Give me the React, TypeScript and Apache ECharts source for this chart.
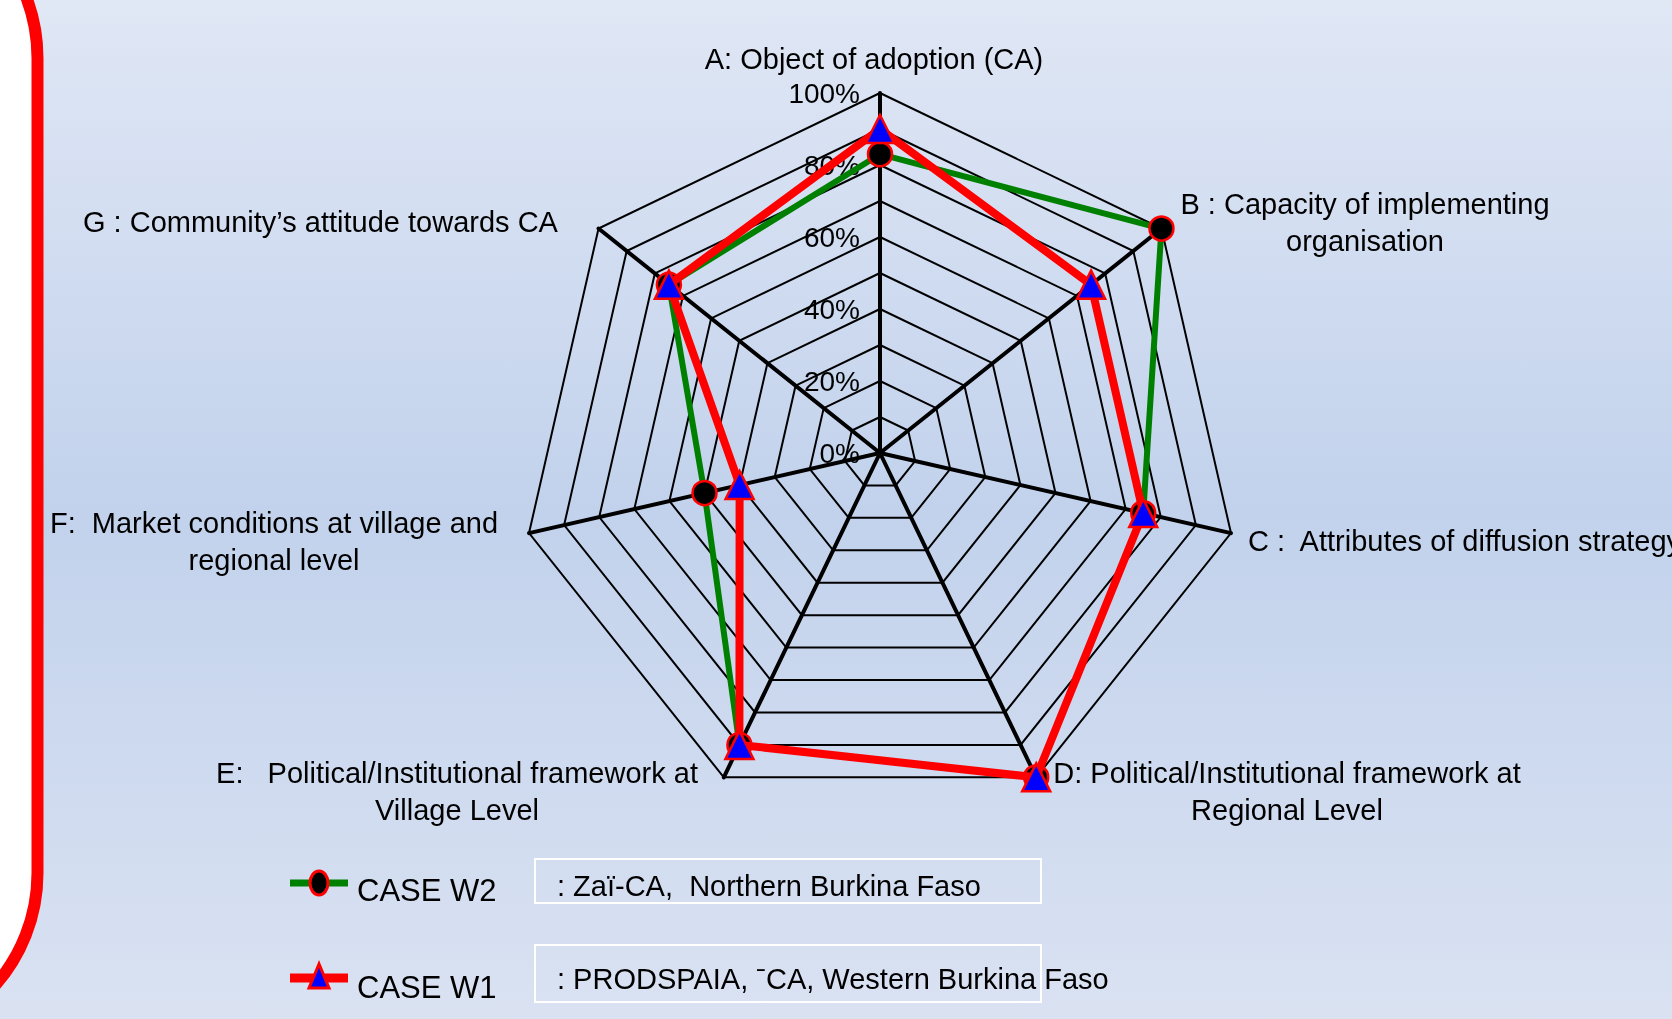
import React, { useEffect, useRef } from "react";
import * as echarts from "echarts";

// ---------- data ----------
const categories = ["A", "B", "C", "D", "E", "F", "G"];
const axisTitles = [
  "A: Object of adoption (CA)",
  "B : Capacity of implementing\norganisation",
  "C :  Attributes of diffusion strategy",
  "D: Political/Institutional framework at\nRegional Level",
  "E:   Political/Institutional framework at\nVillage Level",
  "F:  Market conditions at village and\nregional level",
  "G : Community\u2019s attitude towards CA",
];
const seriesNames = ["CASE W2", "CASE W1"];
const caseW2 = [83, 100, 75, 100, 90, 50, 75];
const caseW1 = [90, 75, 75, 100, 90, 40, 75];
const legendDescriptions = [
  ": Za\u00ef-CA,  Northern Burkina Faso",
  ": PRODSPAIA, \u02c9CA, Western Burkina Faso",
];
const axisMax = 100;
const tickStep = 20;

// ECharts lays radar indicators counter-clockwise; the reference runs clockwise.
const clockwise = [0, 6, 5, 4, 3, 2, 1];

// ---------- layout ----------
const W = 1672;
const H = 1019;
const CX = 880;
const CY = 453;
const R = 360;
const FONT = "'Liberation Sans', Arial, sans-serif";
const titleLayout = [
  { x: 874, y: 59, align: "center" },
  { x: 1365, y: 222, align: "center" },
  { x: 1248, y: 541, align: "left" },
  { x: 1287, y: 791, align: "center" },
  { x: 457, y: 791, align: "center" },
  { x: 274, y: 541, align: "center" },
  { x: 83, y: 222, align: "left" },
];

export default function App() {
  const ref = useRef<HTMLDivElement>(null);

  useEffect(() => {
    if (!ref.current) return;
    const chart = echarts.init(ref.current, null, { renderer: "svg" });

    const graphics: any[] = [
      {
        type: "rect",
        z: -10,
        silent: true,
        shape: { x: 0, y: 0, width: W, height: H },
        style: {
          fill: new echarts.graphic.LinearGradient(0, 0, 0, 1, [
            { offset: 0, color: "#e0e7f5" },
            { offset: 0.5, color: "#c2d2ec" },
            { offset: 1, color: "#dae2f2" },
          ]),
        },
      },
      {
        type: "rect",
        z: -5,
        silent: true,
        shape: { x: -500, y: -112, width: 537.5, height: 1155, r: 170 },
        style: { fill: "#ffffff", stroke: "#ff0000", lineWidth: 12 },
      },
    ];

    axisTitles.forEach((t, i) => {
      const l = titleLayout[i];
      graphics.push({
        type: "text",
        x: l.x,
        y: l.y,
        style: {
          text: t,
          fill: "#000",
          font: `29px ${FONT}`,
          textAlign: l.align,
          textVerticalAlign: "middle",
          lineHeight: 37,
        },
      });
    });

    // legend
    const legendY = [883, 978];
    const textY = [890, 987];
    const colors = ["#008000", "#ff0000"];
    seriesNames.forEach((n, i) => {
      graphics.push({
        type: "line",
        shape: { x1: 290, y1: legendY[i], x2: 348, y2: legendY[i] },
        style: { stroke: colors[i], lineWidth: i === 0 ? 7 : 9 },
      });
      if (i === 0) {
        graphics.push({
          type: "ellipse",
          shape: { cx: 319, cy: legendY[i], rx: 9, ry: 12 },
          style: { fill: "#000", stroke: "#ff0000", lineWidth: 3 },
        });
      } else {
        graphics.push({
          type: "polygon",
          shape: {
            points: [
              [319, legendY[i] - 14],
              [309, legendY[i] + 10],
              [329, legendY[i] + 10],
            ],
          },
          style: { fill: "#0000ff", stroke: "#ff0000", lineWidth: 3 },
        });
      }
      graphics.push({
        type: "text",
        x: 357,
        y: textY[i],
        style: {
          text: n,
          fill: "#000",
          font: `31px ${FONT}`,
          textAlign: "left",
          textVerticalAlign: "middle",
        },
      });
    });
    const boxes = [
      { x: 535, y: 859, w: 506, h: 44, ty: 886 },
      { x: 535, y: 945, w: 506, h: 57, ty: 979 },
    ];
    legendDescriptions.forEach((d, i) => {
      const b = boxes[i];
      graphics.push({
        type: "rect",
        shape: { x: b.x, y: b.y, width: b.w, height: b.h },
        style: { fill: "none", stroke: "#ffffff", lineWidth: 2 },
      });
      graphics.push({
        type: "text",
        x: 557,
        y: b.ty,
        style: {
          text: d,
          fill: "#000",
          font: `29px ${FONT}`,
          textAlign: "left",
          textVerticalAlign: "middle",
        },
      });
    });

    const reorder = (arr: number[]) => clockwise.map((k) => arr[k]);

    chart.setOption({
      animation: false,
      textStyle: { fontFamily: FONT },
      radar: {
        center: [CX, CY],
        radius: R,
        startAngle: 90,
        shape: "polygon",
        splitNumber: 10,
        indicator: clockwise.map((k) => ({
          name: categories[k],
          min: 0,
          max: axisMax,
        })),
        axisName: { show: false },
        axisLine: { lineStyle: { color: "#000", width: 4 } },
        splitLine: { lineStyle: { color: "#000", width: 2 } },
        splitArea: { show: false },
        axisTick: { show: false },
        axisLabel: { show: false },
      },
      grid: {
        left: CX,
        top: CY - R,
        width: 1,
        height: R,
        containLabel: false,
      },
      xAxis: { type: "value", show: false },
      yAxis: {
        type: "value",
        min: 0,
        max: axisMax,
        interval: tickStep,
        axisLine: { show: false },
        axisTick: { show: false },
        splitLine: { show: false },
        axisLabel: {
          formatter: "{value}%",
          color: "#000",
          fontSize: 28,
          fontFamily: FONT,
          margin: 20,
        },
      },
      series: [
        {
          type: "radar",
          name: seriesNames[0],
          z: 3,
          symbol: "circle",
          symbolSize: 24,
          lineStyle: { color: "#008000", width: 6 },
          itemStyle: { color: "#000", borderColor: "#ff0000", borderWidth: 2.5 },
          data: [{ value: reorder(caseW2), name: seriesNames[0] }],
        },
        {
          type: "radar",
          name: seriesNames[1],
          z: 4,
          symbol: "triangle",
          symbolSize: 28,
          lineStyle: { color: "#ff0000", width: 8 },
          itemStyle: { color: "#0000ff", borderColor: "#ff0000", borderWidth: 2.5 },
          data: [{ value: reorder(caseW1), name: seriesNames[1] }],
        },
      ],
      graphic: graphics,
    });

    return () => chart.dispose();
  }, []);

  return (
    <div
      ref={ref}
      style={{ position: "fixed", left: 0, top: 0, width: W, height: H }}
    />
  );
}
